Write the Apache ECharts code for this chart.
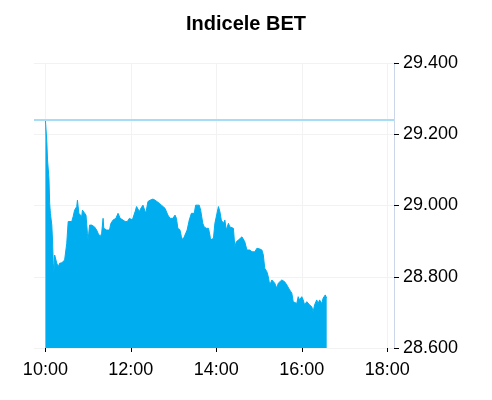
<!DOCTYPE html>
<html>
<head>
<meta charset="utf-8">
<script src="https://cdn.jsdelivr.net/npm/echarts@6/dist/echarts.min.js"></script>
<style>
html,body{margin:0;padding:0;background:#fff;}
#chart{width:492px;height:400px;}
</style>
</head>
<body>
<div id="chart"></div>
<script>
// Session opens at 10:00; times are minutes after the open
var titleText = 'Indicele BET';
var openMinuteOfDay = 600;
var minutesAfterOpen = [0,2,3,5,6,7,9,10,11,12,13,16,18,20,23,25,27,30,32,34,37,39,41,44,45,47,49,51,52,54,57,59,60,62,65,67,69,72,74,77,79,80,81,82,86,90,92,95,99,102,105,107,109,112,113,115,118,120,122,123,126,128,130,132,134,137,138,141,144,147,149,151,154,156,160,163,165,168,170,172,175,177,179,182,184,186,189,191,193,196,199,202,205,209,211,213,216,218,221,223,226,229,231,232,236,238,240,243,245,247,250,252,254,257,259,261,264,266,268,271,273,276,278,280,283,285,287,290,292,294,297,299,301,304,306,308,311,313,315,318,320,322,325,327,329,332,334,336,339,341,343,346,348,350,353,355,357,360,362,364,367,369,371,374,376,378,381,383,385,388,390,393,395];
var indexValues = [29.240,29.179,29.128,29.076,29.006,28.978,28.945,28.903,28.838,28.813,28.861,28.838,28.828,28.838,28.839,28.842,28.847,28.894,28.955,28.959,28.955,28.969,28.987,28.997,29.015,28.978,28.973,28.969,28.987,28.992,28.973,28.922,28.903,28.945,28.945,28.945,28.940,28.931,28.922,28.912,28.922,28.922,28.964,28.936,28.931,28.931,28.950,28.959,28.964,28.978,28.964,28.969,28.959,28.955,28.959,28.955,28.964,28.969,28.959,28.955,28.983,28.997,28.992,28.983,28.992,29.001,28.997,28.978,29.011,29.015,29.011,29.018,29.015,29.011,29.006,29.001,29.006,28.992,28.992,28.973,28.964,28.969,28.964,28.973,28.964,28.936,28.931,28.912,28.903,28.917,28.931,28.959,28.978,28.978,29.001,28.997,29.001,28.987,28.950,28.940,28.936,28.936,28.917,28.903,28.908,28.950,28.950,28.997,28.983,28.959,28.950,28.959,28.931,28.950,28.940,28.940,28.936,28.884,28.898,28.903,28.898,28.912,28.912,28.898,28.875,28.870,28.875,28.870,28.875,28.870,28.880,28.880,28.878,28.875,28.861,28.824,28.814,28.800,28.777,28.791,28.791,28.782,28.768,28.782,28.786,28.791,28.791,28.786,28.777,28.772,28.763,28.754,28.730,28.730,28.725,28.744,28.735,28.744,28.735,28.721,28.730,28.735,28.721,28.716,28.702,28.721,28.735,28.725,28.735,28.725,28.740,28.749,28.740];
var referenceValue = 29.244;
var xTickTimes = ['10:00','12:00','14:00','16:00','18:00'];
var yTickValues = [28.6, 28.8, 29.0, 29.2, 29.4];

function toMinutes(s){var p=s.split(':');return (+p[0])*60+(+p[1]);}
function toClock(m){var h=Math.floor(m/60),mm=Math.round(m%60);return (h<10?'0':'')+h+':'+(mm<10?'0':'')+mm;}

var xTickMinutes = xTickTimes.map(toMinutes);
var seriesData = minutesAfterOpen.map(function(m,i){return [openMinuteOfDay+m, indexValues[i]];});

var chart = echarts.init(document.getElementById('chart'), null, {renderer:'canvas'});
var font = '"Liberation Sans", Arial, sans-serif';
chart.setOption({
  animation:false,
  backgroundColor:'#ffffff',
  title:{text:titleText,left:'center',top:14,padding:0,
    textStyle:{fontFamily:font,fontSize:20,fontWeight:'bold',color:'#000'}},
  grid:{left:34,right:98,top:63,bottom:52},
  xAxis:{
    type:'value',min:584,max:1089.5,
    axisLine:{show:false},
    axisTick:{show:true,customValues:xTickMinutes,length:4,lineStyle:{color:'#000',width:1}},
    axisLabel:{customValues:xTickMinutes,formatter:function(v){return toClock(v);},
      fontFamily:font,fontSize:18,color:'#000',margin:13},
    splitLine:{show:true,lineStyle:{color:'#f2f2f2',width:1}}
  },
  yAxis:{
    type:'value',position:'right',min:yTickValues[0],max:yTickValues[yTickValues.length-1],interval:0.2,
    axisLine:{show:true,lineStyle:{color:'#ccd6eb',width:1}},
    axisTick:{show:true,length:5,lineStyle:{color:'#000',width:1}},
    axisLabel:{formatter:function(v){return v.toFixed(3);},fontFamily:font,fontSize:18,color:'#000',margin:9},
    splitLine:{show:true,lineStyle:{color:'#f2f2f2',width:1}}
  },
  series:[{
    type:'line',data:seriesData,symbol:'none',
    lineStyle:{color:'#00aeef',width:1},
    areaStyle:{color:'#00aeef',opacity:1,origin:'start'},
    markLine:{silent:true,symbol:['none','none'],label:{show:false},
      lineStyle:{color:'#a6dcf4',width:2,type:'solid'},
      data:[{yAxis:referenceValue}]}
  }]
});
</script>
</body>
</html>
